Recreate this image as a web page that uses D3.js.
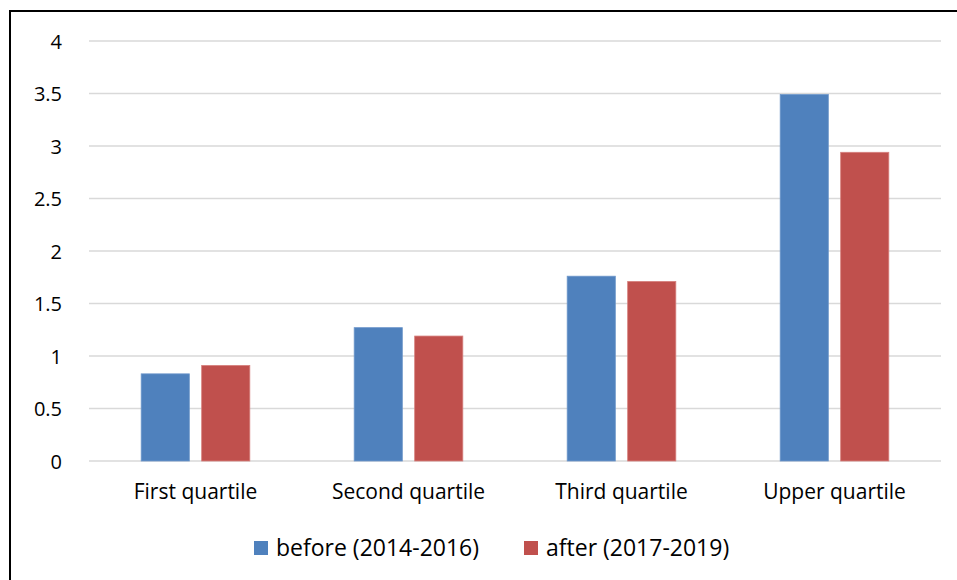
<!DOCTYPE html>
<html>
<head>
<meta charset="utf-8">
<script src="https://cdn.jsdelivr.net/npm/d3@7"></script>
<style>
  html, body { margin: 0; padding: 0; background: #fff; }
  svg { display: block; }
  text { font-family: "Open Sans", Lato, sans-serif; fill: #000; }
</style>
</head>
<body>
<svg id="chart" width="957" height="580"></svg>
<script>
// Quartile categories and the two period series
const categories = ["First quartile", "Second quartile", "Third quartile", "Upper quartile"];
const seriesNames = ["before (2014-2016)", "after (2017-2019)"];
const beforeValues = [0.83, 1.27, 1.76, 3.49];
const afterValues = [0.91, 1.19, 1.71, 2.94];
const yTicks = [0, 0.5, 1, 1.5, 2, 2.5, 3, 3.5, 4];
const colors = ["#4F81BD", "#C0504D"];
const strokes = ["#6E97CA", "#D67F7C"];

const FONT = "'Open Sans', Lato, sans-serif";
const svg = d3.select("#chart");
const W = 957, H = 580;
const plot = { left: 89, right: 941, top: 41, bottom: 461 };

// outer chart frame (extends past right and bottom edges)
svg.append("rect")
  .attr("x", 10).attr("y", 11)
  .attr("width", W + 20).attr("height", H + 20)
  .attr("fill", "#fff").attr("stroke", "#000").attr("stroke-width", 2);

const x = d3.scaleBand().domain(categories).range([plot.left, plot.right]).padding(0);
const y = d3.scaleLinear().domain([0, 4]).range([plot.bottom, plot.top]);

// gridlines
svg.append("g")
  .selectAll("line")
  .data(yTicks)
  .join("line")
  .attr("x1", plot.left).attr("x2", plot.right)
  .attr("y1", d => y(d)).attr("y2", d => y(d))
  .attr("stroke", "#D9D9D9").attr("stroke-width", 1.5);

// y axis labels
const yAxis = d3.axisLeft(y).tickValues(yTicks).tickSize(0).tickPadding(0)
  .tickFormat(d3.format("~g"));
const yG = svg.append("g").attr("transform", `translate(${62},0)`).call(yAxis);
yG.select(".domain").remove();
yG.selectAll("text").style("font-size", "20px").style("font-family", FONT)
  .attr("fill", "#000").attr("dy", "0.35em");

// bars
const barW = x.bandwidth() * 0.226;
const gap = x.bandwidth() * 0.058;
const sub = d3.scaleOrdinal().domain(seriesNames)
  .range([-(gap / 2) - barW, gap / 2]);

const data = categories.flatMap((c, i) => [
  { cat: c, s: seriesNames[0], v: beforeValues[i], k: 0 },
  { cat: c, s: seriesNames[1], v: afterValues[i], k: 1 }
]);

svg.append("g")
  .selectAll("rect")
  .data(data)
  .join("rect")
  .attr("x", d => x(d.cat) + x.bandwidth() / 2 + sub(d.s))
  .attr("y", d => y(d.v))
  .attr("width", barW)
  .attr("height", d => y(0) - y(d.v))
  .attr("fill", d => colors[d.k])
  .attr("stroke", d => strokes[d.k])
  .attr("stroke-width", 0.8);

// x axis labels
const xAxis = d3.axisBottom(x).tickSize(0).tickPadding(0);
const xG = svg.append("g").attr("transform", `translate(0,${492})`).call(xAxis);
xG.select(".domain").remove();
xG.selectAll("text").style("font-size", "21px").style("font-family", FONT)
  .attr("fill", "#000").attr("dy", "0.35em").attr("y", 0);

// legend
const legendItems = [
  { name: seriesNames[0], color: colors[0], x: 254, tx: 276 },
  { name: seriesNames[1], color: colors[1], x: 524, tx: 546 }
];
const lg = svg.append("g");
lg.selectAll("rect")
  .data(legendItems)
  .join("rect")
  .attr("x", d => d.x).attr("y", 541)
  .attr("width", 14).attr("height", 14)
  .attr("fill", d => d.color);
lg.selectAll("text")
  .data(legendItems)
  .join("text")
  .attr("x", d => d.tx).attr("y", 548)
  .attr("dy", "0.35em")
  .style("font-size", "23px")
  .style("font-family", FONT)
  .text(d => d.name);
</script>
</body>
</html>
